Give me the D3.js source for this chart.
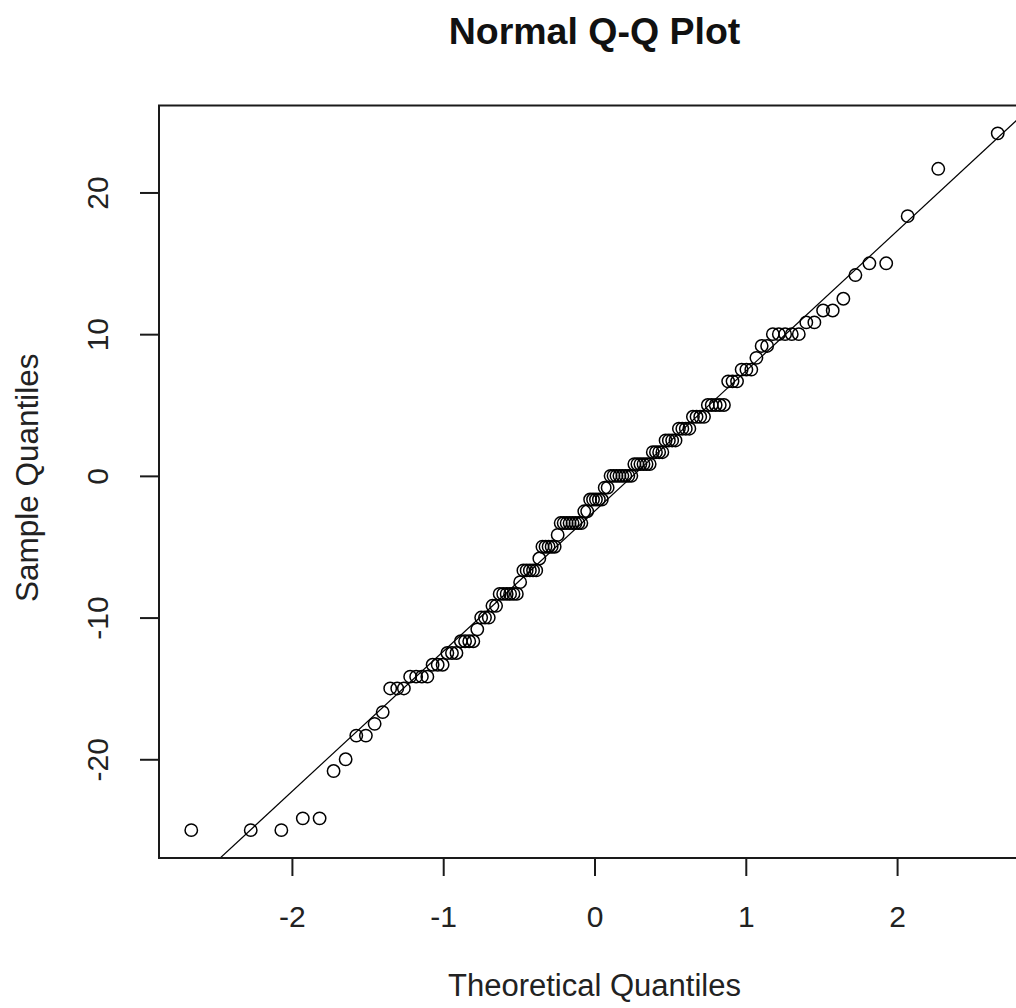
<!DOCTYPE html>
<html>
<head>
<meta charset="utf-8">
<script src="https://cdn.jsdelivr.net/npm/d3@7"></script>
<style>
  html, body { margin: 0; padding: 0; background: #fff; overflow: hidden; }
  svg { display: block; font-family: "Liberation Sans", Arial, sans-serif; }
</style>
</head>
<body>
<svg id="chart" width="1016" height="1008"></svg>
<script>
// Sorted sample values
const sampleValues = [
  -25, -25, -25,
  -24.17, -24.17,
  -20.83,
  -20,
  -18.33, -18.33,
  -17.5,
  -16.67,
  -15, -15, -15,
  -14.17, -14.17, -14.17, -14.17,
  -13.33, -13.33, -13.33,
  -12.5, -12.5, -12.5,
  -11.67, -11.67, -11.67, -11.67,
  -10.83,
  -10, -10, -10,
  -9.17, -9.17,
  -8.33, -8.33, -8.33, -8.33, -8.33, -8.33,
  -7.5,
  -6.67, -6.67, -6.67, -6.67, -6.67,
  -5.83,
  -5, -5, -5, -5, -5,
  -4.17,
  -3.33, -3.33, -3.33, -3.33, -3.33, -3.33, -3.33, -3.33,
  -2.5, -2.5,
  -1.67, -1.67, -1.67, -1.67, -1.67,
  -0.83, -0.83,
  0, 0, 0, 0, 0, 0, 0, 0,
  0.83, 0.83, 0.83, 0.83, 0.83, 0.83,
  1.67, 1.67, 1.67, 1.67,
  2.5, 2.5, 2.5, 2.5,
  3.33, 3.33, 3.33, 3.33,
  4.17, 4.17, 4.17, 4.17,
  5, 5, 5, 5, 5,
  6.67, 6.67, 6.67,
  7.5, 7.5, 7.5,
  8.33,
  9.17, 9.17,
  10, 10, 10, 10, 10,
  10.83, 10.83,
  11.67, 11.67,
  12.5,
  14.17,
  15, 15,
  18.33,
  21.67,
  24.17
];
const xTickValues = [-2, -1, 0, 1, 2];
const yTickValues = [-20, -10, 0, 10, 20];
const titleText = "Normal Q-Q Plot";
const xLabelText = "Theoretical Quantiles";
const yLabelText = "Sample Quantiles";

// inverse normal CDF (Acklam)
function qnorm(p) {
  const a = [-3.969683028665376e+01, 2.209460984245205e+02, -2.759285104469687e+02, 1.383577518672690e+02, -3.066479806614716e+01, 2.506628277459239e+00];
  const b = [-5.447609879822406e+01, 1.615858368580409e+02, -1.556989798598866e+02, 6.680131188771972e+01, -1.328068155288572e+01];
  const c = [-7.784894002430293e-03, -3.223964580411365e-01, -2.400758277161838e+00, -2.549732539343734e+00, 4.374664141464968e+00, 2.938163982698783e+00];
  const d = [7.784695709041462e-03, 3.224671290700398e-01, 2.445134137142996e+00, 3.754408661907416e+00];
  const pl = 0.02425, ph = 1 - pl;
  let q, r;
  if (p < pl) {
    q = Math.sqrt(-2 * Math.log(p));
    return (((((c[0]*q+c[1])*q+c[2])*q+c[3])*q+c[4])*q+c[5]) / ((((d[0]*q+d[1])*q+d[2])*q+d[3])*q+1);
  } else if (p <= ph) {
    q = p - 0.5; r = q * q;
    return (((((a[0]*r+a[1])*r+a[2])*r+a[3])*r+a[4])*r+a[5])*q / (((((b[0]*r+b[1])*r+b[2])*r+b[3])*r+b[4])*r+1);
  } else {
    q = Math.sqrt(-2 * Math.log(1 - p));
    return -(((((c[0]*q+c[1])*q+c[2])*q+c[3])*q+c[4])*q+c[5]) / ((((d[0]*q+d[1])*q+d[2])*q+d[3])*q+1);
  }
}

const n = sampleValues.length;
const sorted = sampleValues.slice().sort((a, b) => a - b);
const theo = sorted.map((_, i) => qnorm((i + 0.5) / n));
const points = sorted.map((v, i) => ({ q: theo[i], v }));

const plot = { left: 159, right: 1030, top: 105.5, bottom: 858 };

function padExtent(ext) {
  const r = ext[1] - ext[0];
  return [ext[0] - 0.04 * r, ext[1] + 0.04 * r];
}
const x = d3.scaleLinear().domain(padExtent(d3.extent(theo))).range([plot.left, plot.right]);
const y = d3.scaleLinear().domain(padExtent(d3.extent(sorted))).range([plot.bottom, plot.top]);

const svg = d3.select("#chart");
svg.append("rect").attr("width", 1016).attr("height", 1008).attr("fill", "#fff");

svg.append("defs").append("clipPath").attr("id", "clip")
  .append("rect")
  .attr("x", plot.left).attr("y", plot.top)
  .attr("width", plot.right - plot.left).attr("height", plot.bottom - plot.top);

// qq line through quartiles
const q1 = d3.quantileSorted(sorted, 0.25), q3 = d3.quantileSorted(sorted, 0.75);
const t1 = qnorm(0.25), t3 = qnorm(0.75);
const slope = (q3 - q1) / (t3 - t1);
const intercept = q1 - slope * t1;
const xd = x.domain();
svg.append("g").attr("clip-path", "url(#clip)")
  .append("line")
  .attr("x1", x(xd[0])).attr("y1", y(intercept + slope * xd[0]))
  .attr("x2", x(xd[1])).attr("y2", y(intercept + slope * xd[1]))
  .attr("stroke", "#000").attr("stroke-width", 1.2);

// points
svg.append("g").selectAll("circle").data(points).join("circle")
  .attr("cx", d => x(d.q)).attr("cy", d => y(d.v)).attr("r", 6.2)
  .attr("fill", "none").attr("stroke", "#000").attr("stroke-width", 1.5);

// box
svg.append("rect")
  .attr("x", plot.left).attr("y", plot.top)
  .attr("width", plot.right - plot.left).attr("height", plot.bottom - plot.top)
  .attr("fill", "none").attr("stroke", "#1a1a1a").attr("stroke-width", 2);

const fontSize = 30;
// x axis
const gx = svg.append("g").attr("transform", `translate(0,${plot.bottom})`)
  .call(d3.axisBottom(x).tickValues(xTickValues).tickSize(18).tickFormat(d => String(d)));
gx.select(".domain").remove();
gx.selectAll(".tick line").attr("stroke", "#1a1a1a").attr("stroke-width", 2);
gx.selectAll(".tick text").attr("y", 69).attr("dy", 0)
  .attr("font-size", fontSize).attr("fill", "#222")
  .attr("font-family", "'Liberation Sans', Arial, sans-serif");

// y axis
const gy = svg.append("g").attr("transform", `translate(${plot.left},0)`)
  .call(d3.axisLeft(y).tickValues(yTickValues).tickSize(19).tickFormat(d => String(d)));
gy.select(".domain").remove();
gy.selectAll(".tick line").attr("stroke", "#1a1a1a").attr("stroke-width", 2);
gy.selectAll(".tick text").attr("x", 0).attr("dy", 0)
  .attr("transform", "translate(-51,0) rotate(-90)")
  .attr("text-anchor", "middle")
  .attr("font-size", fontSize).attr("fill", "#222")
  .attr("font-family", "'Liberation Sans', Arial, sans-serif");

const cx = (plot.left + plot.right) / 2;
svg.append("text").attr("x", cx).attr("y", 44).attr("text-anchor", "middle")
  .attr("font-size", 37.5).attr("font-weight", "bold").attr("fill", "#111").text(titleText);
svg.append("text").attr("x", cx).attr("y", 996).attr("text-anchor", "middle")
  .attr("font-size", 31).attr("fill", "#222").text(xLabelText);
svg.append("text").attr("transform", `translate(38,${(plot.top + plot.bottom) / 2 - 4}) rotate(-90)`)
  .attr("text-anchor", "middle")
  .attr("font-size", 31.5).attr("fill", "#222").text(yLabelText);
</script>
</body>
</html>
